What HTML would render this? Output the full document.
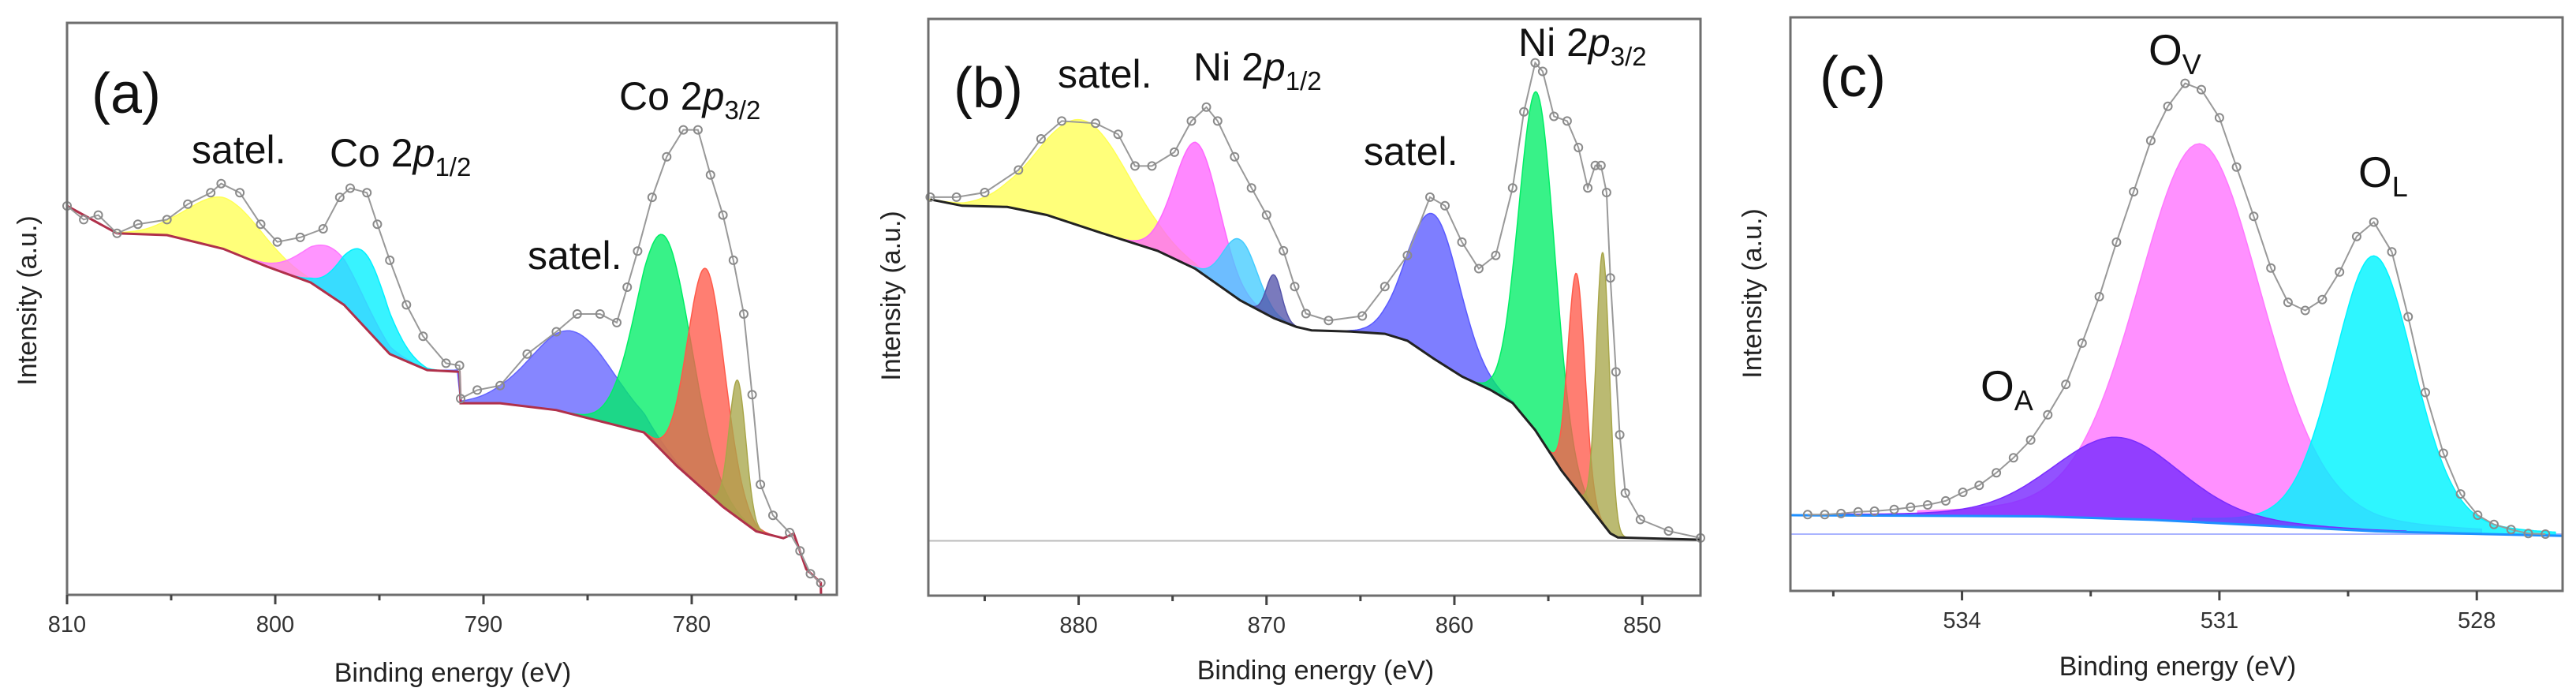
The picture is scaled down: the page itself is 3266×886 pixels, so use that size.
<!DOCTYPE html>
<html><head><meta charset="utf-8"><style>
html,body{margin:0;padding:0;background:#fff;}
svg{display:block;}
.ann{font-family:"Liberation Sans",sans-serif;fill:#111;}
.tick{font-family:"Liberation Sans",sans-serif;font-size:29px;fill:#333;}
.ttl{font-family:"Liberation Sans",sans-serif;font-size:34px;fill:#222;}
</style></head><body>
<svg id="fig" width="3266" height="886" viewBox="0 0 3266 886" xmlns="http://www.w3.org/2000/svg">
<g id="panel-a"></g>
<g id="panel-b"></g>
<g id="panel-c"></g>
<g>
<text class="ann" x="116" y="143" font-size="72">(a)</text>
<text class="ann" x="243" y="207" font-size="50">satel.</text>
<text class="ann" x="418" y="211" font-size="50">Co 2<tspan font-style="italic">p</tspan><tspan font-size="33" dy="12">1/2</tspan></text>
<text class="ann" x="785" y="139" font-size="50">Co 2<tspan font-style="italic">p</tspan><tspan font-size="33" dy="12">3/2</tspan></text>
<text class="ann" x="669" y="341" font-size="50">satel.</text>
<text class="ann" x="1209" y="136" font-size="72">(b)</text>
<text class="ann" x="1341" y="111" font-size="50">satel.</text>
<text class="ann" x="1513" y="102" font-size="50">Ni 2<tspan font-style="italic">p</tspan><tspan font-size="33" dy="12">1/2</tspan></text>
<text class="ann" x="1729" y="209" font-size="50">satel.</text>
<text class="ann" x="1925" y="71" font-size="50">Ni 2<tspan font-style="italic">p</tspan><tspan font-size="33" dy="12">3/2</tspan></text>
<text class="ann" x="2307" y="122" font-size="72">(c)</text>
<text class="ann" x="2724" y="82" font-size="55">O<tspan font-size="36" dy="12">V</tspan></text>
<text class="ann" x="2990" y="237" font-size="55">O<tspan font-size="36" dy="12">L</tspan></text>
<text class="ann" x="2511" y="508" font-size="55">O<tspan font-size="36" dy="12">A</tspan></text>
</g>
</svg>
<script>
// ---------- Panel (a) Co 2p ----------
const aBgEV=[810.0,807.6,805.2,802.5,800.4,798.3,796.7,794.5,792.7,791.15,791.1,789.2,786.5,783.9,782.3,780.7,778.5,776.9,775.6,775.1,774.5,773.8,773.79];
const aBgI=[68.0,63.2,62.9,60.5,57.4,54.6,50.7,42.1,39.3,39.0,33.5,33.5,32.3,29.9,28.4,22.5,15.4,11.1,9.9,10.7,4.5,2.1,0];
const aPeakCenter=[802.4,797.2,795.7,785.7,781.3,779.3,777.8];
const aPeakHeight=[9,8.5,13,14.5,38,39,24];
const aPeakSigma=[1.8,1.4,1.1,2.0,1.3,0.9,0.4];
const aEnvEV=[810.0,809.2,808.5,807.6,806.6,805.2,804.2,803.1,802.6,801.7,800.7,799.9,798.8,797.7,796.9,796.4,795.6,795.1,794.5,793.7,792.9,791.8,791.15,791.1,790.3,789.2,787.9,786.5,785.5,784.4,783.6,783.1,782.6,781.9,781.2,780.4,779.7,779.1,778.5,778.0,777.5,777.1,776.7,776.1,775.3,774.8,774.3,773.8];
const aEnvI=[68.0,65.6,66.4,63.2,64.8,65.6,68.3,70.3,71.9,70.3,64.8,61.7,62.5,64.0,69.5,71.1,70.3,64.8,58.5,50.7,45.2,40.5,40.1,34.3,35.8,36.6,42.1,46.0,49.1,49.1,47.6,53.8,60.1,69.5,76.6,81.3,81.3,73.4,66.4,58.5,49.1,35.0,19.3,13.9,10.9,7.7,3.7,2.1];
const aMajorTicks=[810,800,790,780];
const aMinorTicks=[805,795,785,775];

// ---------- Panel (b) Ni 2p ----------
const bBgEV=[887.9,886.2,883.8,881.7,878.8,875.8,873.8,871.4,869.6,868.4,867.6,865.5,863.7,862.5,861.1,859.6,858.1,856.9,855.7,854.3,852.8,851.7,851.3,846.9];
const bBgI=[68.7,67.6,67.4,66.0,62.9,59.8,56.7,51.2,48.1,46.6,46.0,45.8,45.4,44.2,41.1,38.0,35.7,33.4,28.7,21.7,15.4,10.8,10.1,9.7];
const bPeakCenter=[879.7,873.7,871.4,869.6,861.1,855.6,853.5,852.1];
const bPeakHeight=[18.5,22,10.5,7.5,25,59,37.5,47];
const bPeakSigma=[2.4,1.2,0.9,0.4,1.4,0.95,0.45,0.35];
const bEnvEV=[887.9,886.5,885.0,883.2,882.0,880.9,879.1,877.9,877.0,876.1,874.9,874.0,873.2,872.6,871.7,870.8,870.0,869.1,868.5,867.9,866.7,864.9,863.7,862.5,861.3,860.5,859.6,858.7,857.8,856.9,856.3,855.7,855.3,854.7,854.0,853.4,852.9,852.5,852.2,851.9,851.7,851.4,851.2,850.9,850.1,848.6,846.9];
const bEnvI=[69.1,69.1,69.9,73.8,79.2,82.3,81.9,80.0,74.5,74.5,76.9,82.3,84.7,82.3,76.1,70.7,66.0,59.8,53.6,48.9,47.7,48.5,53.6,59.0,69.1,67.6,61.3,56.7,59.0,70.7,83.9,92.4,90.9,83.1,82.3,77.7,70.7,74.6,74.6,69.9,55.1,38.8,27.9,17.8,13.2,11.2,10.0];
const bMajorTicks=[880,870,860,850];
const bMinorTicks=[885,875,865,855];

// ---------- Panel (c) O 1s ----------
const cBgEV=[536.0,533.07,531.78,530.48,529.18,527.89,526.99];
const cBgI=[13.2,13.0,12.4,11.4,10.4,9.9,9.6];
const cPeakCenter=[531.23,529.2,532.2];
const cPeakHeight=[66,48,14.2];
const cPeakSigma=[0.73,0.47,0.75];
const cEnvEV=[535.80,535.60,535.41,535.21,535.02,534.79,534.60,534.40,534.19,533.99,533.80,533.60,533.40,533.20,533.00,532.79,532.60,532.40,532.20,532.00,531.80,531.60,531.40,531.21,531.00,530.80,530.60,530.40,530.20,530.00,529.80,529.60,529.40,529.20,528.99,528.80,528.60,528.39,528.19,527.99,527.80,527.60,527.40,527.20];
const cEnvI=[13.3,13.3,13.5,13.8,13.9,14.2,14.6,15.0,15.7,17.2,18.4,20.6,23.2,26.3,30.7,36.0,43.2,51.3,60.8,69.6,78.5,84.5,88.5,87.4,82.5,73.9,65.3,56.3,50.3,48.9,50.8,55.6,61.8,64.3,59.1,47.8,34.6,24.0,16.9,13.2,11.6,10.7,10.0,9.9];
const cMajorTicks=[534,531,528];
const cMinorTicks=[535.5,532.5,529.5];

const NS='http://www.w3.org/2000/svg';
function mk(tag,attrs,parent){const e=document.createElementNS(NS,tag);for(const k in attrs)e.setAttribute(k,attrs[k]);parent.appendChild(e);return e;}
function interp(xs,ys,x){
  if(x>=xs[0])return ys[0];
  for(let i=1;i<xs.length;i++){if(x>=xs[i]){const t=(xs[i-1]-x)/(xs[i-1]-xs[i]||1);return ys[i-1]+(ys[i]-ys[i-1])*t;}}
  return ys[ys.length-1];
}

function drawPanel(g,P,bgEV,bgI,pc,ph,ps,colors,envEV,envI,major,minor){
  const X=e=>P.left+(P.evL-e)/(P.evL-P.evR)*(P.right-P.left);
  const Y=v=>P.bottom-v/100*(P.bottom-P.top);
  const bg=e=>interp(bgEV,bgI,e);
  if(P.baseI!==undefined){
    const bl=mk('line',{x1:P.left,x2:P.right,y1:Y(P.baseI),y2:Y(P.baseI),stroke:P.baseColor,'stroke-width':2},g);
    
    
  }
  for(let k=0;k<pc.length;k++){
    const c=pc[k],s=ps[k],h=ph[k];
    const e0=Math.min(P.evL,c+4.5*s),e1=Math.max(P.evR,c-4.5*s);
    const top=[],bot=[];
    const n=120;
    for(let i=0;i<=n;i++){
      const e=e0+(e1-e0)*i/n;
      const d=(e-c)/s;
      const pk=h*((1-P.mix)*Math.exp(-d*d/2)+P.mix/(1+Math.pow((e-c)/(1.177*s),2)));
      top.push(X(e).toFixed(1)+','+Y(bg(e)+pk).toFixed(1));
      bot.unshift(X(e).toFixed(1)+','+Y(bg(e)).toFixed(1));
    }
    const poly=mk('polygon',{points:top.concat(bot).join(' '),fill:colors[k],'fill-opacity':P.op,stroke:colors[k],'stroke-width':1.5},g);
    
    
  }
  const bpts=bgEV.map((e,i)=>X(e).toFixed(1)+','+Y(bgI[i]).toFixed(1)).join(' ');
  const bgl=mk('polyline',{points:bpts,fill:'none',stroke:P.bgColor,'stroke-width':3},g);
  
  
  const epts=envEV.map((e,i)=>X(e).toFixed(1)+','+Y(envI[i]).toFixed(1)).join(' ');
  const env=mk('polyline',{points:epts,fill:'none',stroke:'#999','stroke-width':2},g);
  
  
  for(let i=0;i<envEV.length;i++){
    const ci=mk('circle',{cx:X(envEV[i]).toFixed(1),cy:Y(envI[i]).toFixed(1),r:5,fill:'none',stroke:'#8a8a8a','stroke-width':2},g);
    
    
  }
  const fr=mk('rect',{x:P.left,y:P.top,width:P.right-P.left,height:P.bottom-P.top,fill:'none',stroke:'#6e6e6e','stroke-width':3},g);
  
  
  major.forEach(t=>{
    const tl=mk('line',{x1:X(t),x2:X(t),y1:P.bottom,y2:P.bottom+12,stroke:'#444','stroke-width':3},g);
    
    
    const tx=mk('text',{x:X(t),y:P.bottom+47,'text-anchor':'middle',class:'tick'},g);
    tx.textContent=String(t);
    
    
  });
  minor.forEach(t=>{
    const tl=mk('line',{x1:X(t),x2:X(t),y1:P.bottom,y2:P.bottom+7,stroke:'#444','stroke-width':3},g);
    
    
  });
  const xt=mk('text',{x:P.xtX,y:P.xtY,'text-anchor':'middle',class:'ttl'},g);
  xt.textContent='Binding energy (eV)';
  
  
  const yt=mk('text',{x:0,y:0,'text-anchor':'middle',class:'ttl',transform:'translate('+P.ytX+','+P.ytY+') rotate(-90)'},g);
  yt.textContent='Intensity (a.u.)';
  
  
}

drawPanel(document.getElementById('panel-a'),
  {left:85,right:1061,top:29,bottom:754,evL:810,evR:773.03,mix:0,op:0.78,bgColor:'#b0304a',xtX:574,xtY:864,ytX:46,ytY:381},
  aBgEV,aBgI,aPeakCenter,aPeakHeight,aPeakSigma,
  ['#ffff55','#ff77ff','#00f0ff','#6464ff','#00ee66','#ff5a4a','#a8a64a'],
  aEnvEV,aEnvI,aMajorTicks,aMinorTicks);
drawPanel(document.getElementById('panel-b'),
  {left:1177,right:2156,top:24,bottom:755,evL:888.0,evR:846.9,mix:0,op:0.78,bgColor:'#222',baseI:9.5,baseColor:'#bbb',xtX:1668,xtY:861,ytX:1141,ytY:375},
  bBgEV,bBgI,bPeakCenter,bPeakHeight,bPeakSigma,
  ['#ffff55','#ff66ff','#44ccff','#5555aa','#5a5aff','#00ee66','#ff5a4a','#a8a64a'],
  bEnvEV,bEnvI,bMajorTicks,bMinorTicks);
drawPanel(document.getElementById('panel-c'),
  {left:2270,right:3249,top:22,bottom:749,evL:536.0,evR:527.0,mix:0.2,op:0.82,bgColor:'#1e8fff',baseI:9.9,baseColor:'#aab4ff',xtX:2761,xtY:856,ytX:2233,ytY:372},
  cBgEV,cBgI,cPeakCenter,cPeakHeight,cPeakSigma,
  ['#ff77ff','#00f4ff','#7a2cff'],
  cEnvEV,cEnvI,cMajorTicks,cMinorTicks);
</script>
</body></html>
